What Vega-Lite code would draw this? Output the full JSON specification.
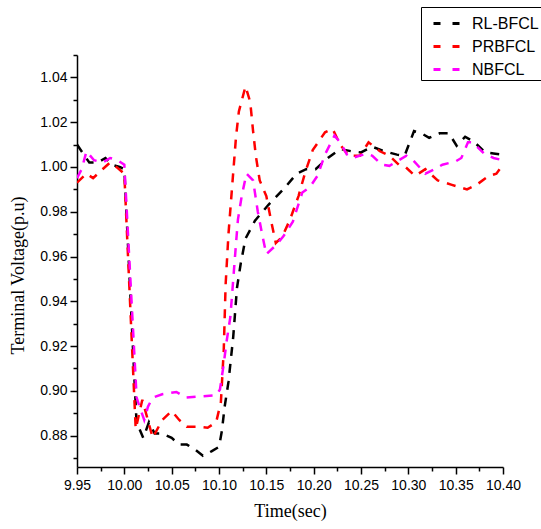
{
  "$schema": "https://vega.github.io/schema/vega-lite/v6.json",
  "width": 426,
  "height": 412,
  "autosize": {"type": "none"},
  "padding": {"left": 77, "top": 55, "right": 38, "bottom": 62},
  "background": "white",
  "config": {
    "view": {"stroke": null},
    "axis": {
      "grid": false,
      "domainColor": "#000",
      "domainWidth": 1.5,
      "tickColor": "#000",
      "tickWidth": 1.5,
      "labelColor": "#000",
      "labelFont": "Liberation Sans, Arial",
      "labelFontSize": 14,
      "titleFont": "Liberation Serif, Times New Roman",
      "titleFontWeight": "normal",
      "titleFontSize": 18,
      "titleColor": "#000"
    },
    "legend": {
      "labelFont": "Liberation Sans, Arial",
      "labelFontSize": 16,
      "labelColor": "#000"
    }
  },
  "data": {
    "values": [
      {"s": "RL-BFCL", "t": 9.950, "v": 1.010},
      {"s": "RL-BFCL", "t": 9.958, "v": 1.005},
      {"s": "RL-BFCL", "t": 9.963, "v": 1.002},
      {"s": "RL-BFCL", "t": 9.972, "v": 1.002},
      {"s": "RL-BFCL", "t": 9.980, "v": 1.004},
      {"s": "RL-BFCL", "t": 9.987, "v": 1.001},
      {"s": "RL-BFCL", "t": 9.995, "v": 1.000},
      {"s": "RL-BFCL", "t": 10.000, "v": 0.999},
      {"s": "RL-BFCL", "t": 10.013, "v": 0.885},
      {"s": "RL-BFCL", "t": 10.016, "v": 0.883},
      {"s": "RL-BFCL", "t": 10.020, "v": 0.879},
      {"s": "RL-BFCL", "t": 10.026, "v": 0.886},
      {"s": "RL-BFCL", "t": 10.032, "v": 0.881},
      {"s": "RL-BFCL", "t": 10.040, "v": 0.881},
      {"s": "RL-BFCL", "t": 10.050, "v": 0.879},
      {"s": "RL-BFCL", "t": 10.058, "v": 0.876},
      {"s": "RL-BFCL", "t": 10.066, "v": 0.876},
      {"s": "RL-BFCL", "t": 10.074, "v": 0.874},
      {"s": "RL-BFCL", "t": 10.083, "v": 0.871},
      {"s": "RL-BFCL", "t": 10.092, "v": 0.873},
      {"s": "RL-BFCL", "t": 10.100, "v": 0.875},
      {"s": "RL-BFCL", "t": 10.103, "v": 0.882},
      {"s": "RL-BFCL", "t": 10.106, "v": 0.893},
      {"s": "RL-BFCL", "t": 10.110, "v": 0.904},
      {"s": "RL-BFCL", "t": 10.115, "v": 0.924},
      {"s": "RL-BFCL", "t": 10.119, "v": 0.946},
      {"s": "RL-BFCL", "t": 10.123, "v": 0.957},
      {"s": "RL-BFCL", "t": 10.128, "v": 0.968},
      {"s": "RL-BFCL", "t": 10.138, "v": 0.976},
      {"s": "RL-BFCL", "t": 10.152, "v": 0.983},
      {"s": "RL-BFCL", "t": 10.168, "v": 0.990},
      {"s": "RL-BFCL", "t": 10.182, "v": 0.997},
      {"s": "RL-BFCL", "t": 10.192, "v": 0.999},
      {"s": "RL-BFCL", "t": 10.202, "v": 0.999},
      {"s": "RL-BFCL", "t": 10.215, "v": 1.004},
      {"s": "RL-BFCL", "t": 10.228, "v": 1.008},
      {"s": "RL-BFCL", "t": 10.240, "v": 1.007},
      {"s": "RL-BFCL", "t": 10.250, "v": 1.0065},
      {"s": "RL-BFCL", "t": 10.262, "v": 1.009},
      {"s": "RL-BFCL", "t": 10.275, "v": 1.007},
      {"s": "RL-BFCL", "t": 10.288, "v": 1.0055},
      {"s": "RL-BFCL", "t": 10.296, "v": 1.005},
      {"s": "RL-BFCL", "t": 10.306, "v": 1.016},
      {"s": "RL-BFCL", "t": 10.314, "v": 1.015},
      {"s": "RL-BFCL", "t": 10.322, "v": 1.013},
      {"s": "RL-BFCL", "t": 10.333, "v": 1.015},
      {"s": "RL-BFCL", "t": 10.343, "v": 1.015},
      {"s": "RL-BFCL", "t": 10.351, "v": 1.0095},
      {"s": "RL-BFCL", "t": 10.360, "v": 1.0135},
      {"s": "RL-BFCL", "t": 10.370, "v": 1.011},
      {"s": "RL-BFCL", "t": 10.381, "v": 1.0065},
      {"s": "RL-BFCL", "t": 10.390, "v": 1.006},
      {"s": "RL-BFCL", "t": 10.400, "v": 1.0055},

      {"s": "PRBFCL", "t": 9.950, "v": 0.993},
      {"s": "PRBFCL", "t": 9.960, "v": 0.997},
      {"s": "PRBFCL", "t": 9.967, "v": 0.995},
      {"s": "PRBFCL", "t": 9.977, "v": 0.999},
      {"s": "PRBFCL", "t": 9.985, "v": 1.002},
      {"s": "PRBFCL", "t": 9.993, "v": 0.9995},
      {"s": "PRBFCL", "t": 10.000, "v": 0.997},
      {"s": "PRBFCL", "t": 10.012, "v": 0.883},
      {"s": "PRBFCL", "t": 10.019, "v": 0.896},
      {"s": "PRBFCL", "t": 10.030, "v": 0.879},
      {"s": "PRBFCL", "t": 10.040, "v": 0.887},
      {"s": "PRBFCL", "t": 10.050, "v": 0.891},
      {"s": "PRBFCL", "t": 10.058, "v": 0.887},
      {"s": "PRBFCL", "t": 10.066, "v": 0.884},
      {"s": "PRBFCL", "t": 10.078, "v": 0.884},
      {"s": "PRBFCL", "t": 10.088, "v": 0.8835},
      {"s": "PRBFCL", "t": 10.097, "v": 0.886},
      {"s": "PRBFCL", "t": 10.102, "v": 0.895},
      {"s": "PRBFCL", "t": 10.105, "v": 0.918},
      {"s": "PRBFCL", "t": 10.107, "v": 0.9475},
      {"s": "PRBFCL", "t": 10.110, "v": 0.970},
      {"s": "PRBFCL", "t": 10.114, "v": 0.992},
      {"s": "PRBFCL", "t": 10.118, "v": 1.0136},
      {"s": "PRBFCL", "t": 10.121, "v": 1.0248},
      {"s": "PRBFCL", "t": 10.128, "v": 1.036},
      {"s": "PRBFCL", "t": 10.133, "v": 1.029},
      {"s": "PRBFCL", "t": 10.136, "v": 1.016},
      {"s": "PRBFCL", "t": 10.139, "v": 1.0047},
      {"s": "PRBFCL", "t": 10.143, "v": 0.994},
      {"s": "PRBFCL", "t": 10.150, "v": 0.987},
      {"s": "PRBFCL", "t": 10.155, "v": 0.976},
      {"s": "PRBFCL", "t": 10.160, "v": 0.966},
      {"s": "PRBFCL", "t": 10.167, "v": 0.969},
      {"s": "PRBFCL", "t": 10.175, "v": 0.9765},
      {"s": "PRBFCL", "t": 10.184, "v": 0.987},
      {"s": "PRBFCL", "t": 10.191, "v": 0.9975},
      {"s": "PRBFCL", "t": 10.199, "v": 1.0075},
      {"s": "PRBFCL", "t": 10.212, "v": 1.0155},
      {"s": "PRBFCL", "t": 10.220, "v": 1.017},
      {"s": "PRBFCL", "t": 10.228, "v": 1.010},
      {"s": "PRBFCL", "t": 10.237, "v": 1.005},
      {"s": "PRBFCL", "t": 10.249, "v": 1.005},
      {"s": "PRBFCL", "t": 10.258, "v": 1.011},
      {"s": "PRBFCL", "t": 10.270, "v": 1.007},
      {"s": "PRBFCL", "t": 10.280, "v": 1.005},
      {"s": "PRBFCL", "t": 10.290, "v": 1.001},
      {"s": "PRBFCL", "t": 10.297, "v": 1.000},
      {"s": "PRBFCL", "t": 10.307, "v": 0.996},
      {"s": "PRBFCL", "t": 10.318, "v": 0.999},
      {"s": "PRBFCL", "t": 10.331, "v": 0.994},
      {"s": "PRBFCL", "t": 10.346, "v": 0.992},
      {"s": "PRBFCL", "t": 10.362, "v": 0.990},
      {"s": "PRBFCL", "t": 10.372, "v": 0.992},
      {"s": "PRBFCL", "t": 10.385, "v": 0.996},
      {"s": "PRBFCL", "t": 10.393, "v": 0.997},
      {"s": "PRBFCL", "t": 10.400, "v": 1.001},

      {"s": "NBFCL", "t": 9.950, "v": 0.995},
      {"s": "NBFCL", "t": 9.955, "v": 0.999},
      {"s": "NBFCL", "t": 9.960, "v": 1.007},
      {"s": "NBFCL", "t": 9.968, "v": 1.003},
      {"s": "NBFCL", "t": 9.977, "v": 1.002},
      {"s": "NBFCL", "t": 9.985, "v": 1.004},
      {"s": "NBFCL", "t": 9.993, "v": 1.003},
      {"s": "NBFCL", "t": 10.000, "v": 1.001},
      {"s": "NBFCL", "t": 10.013, "v": 0.897},
      {"s": "NBFCL", "t": 10.016, "v": 0.893},
      {"s": "NBFCL", "t": 10.021, "v": 0.887},
      {"s": "NBFCL", "t": 10.025, "v": 0.893},
      {"s": "NBFCL", "t": 10.030, "v": 0.897},
      {"s": "NBFCL", "t": 10.040, "v": 0.8985},
      {"s": "NBFCL", "t": 10.055, "v": 0.8995},
      {"s": "NBFCL", "t": 10.065, "v": 0.897},
      {"s": "NBFCL", "t": 10.080, "v": 0.8975},
      {"s": "NBFCL", "t": 10.097, "v": 0.898},
      {"s": "NBFCL", "t": 10.101, "v": 0.9006},
      {"s": "NBFCL", "t": 10.105, "v": 0.912},
      {"s": "NBFCL", "t": 10.108, "v": 0.922},
      {"s": "NBFCL", "t": 10.112, "v": 0.933},
      {"s": "NBFCL", "t": 10.114, "v": 0.944},
      {"s": "NBFCL", "t": 10.116, "v": 0.955},
      {"s": "NBFCL", "t": 10.118, "v": 0.966},
      {"s": "NBFCL", "t": 10.120, "v": 0.9765},
      {"s": "NBFCL", "t": 10.124, "v": 0.987},
      {"s": "NBFCL", "t": 10.129, "v": 0.997},
      {"s": "NBFCL", "t": 10.136, "v": 0.994},
      {"s": "NBFCL", "t": 10.141, "v": 0.980},
      {"s": "NBFCL", "t": 10.146, "v": 0.969},
      {"s": "NBFCL", "t": 10.150, "v": 0.961},
      {"s": "NBFCL", "t": 10.160, "v": 0.965},
      {"s": "NBFCL", "t": 10.168, "v": 0.969},
      {"s": "NBFCL", "t": 10.178, "v": 0.9756},
      {"s": "NBFCL", "t": 10.188, "v": 0.9886},
      {"s": "NBFCL", "t": 10.196, "v": 0.991},
      {"s": "NBFCL", "t": 10.204, "v": 0.996},
      {"s": "NBFCL", "t": 10.212, "v": 1.0056},
      {"s": "NBFCL", "t": 10.222, "v": 1.014},
      {"s": "NBFCL", "t": 10.228, "v": 1.011},
      {"s": "NBFCL", "t": 10.235, "v": 1.0056},
      {"s": "NBFCL", "t": 10.241, "v": 1.004},
      {"s": "NBFCL", "t": 10.256, "v": 1.006},
      {"s": "NBFCL", "t": 10.262, "v": 1.005},
      {"s": "NBFCL", "t": 10.272, "v": 1.001},
      {"s": "NBFCL", "t": 10.280, "v": 1.0005},
      {"s": "NBFCL", "t": 10.290, "v": 1.003},
      {"s": "NBFCL", "t": 10.298, "v": 1.005},
      {"s": "NBFCL", "t": 10.305, "v": 1.003},
      {"s": "NBFCL", "t": 10.318, "v": 0.997},
      {"s": "NBFCL", "t": 10.328, "v": 0.999},
      {"s": "NBFCL", "t": 10.336, "v": 1.001},
      {"s": "NBFCL", "t": 10.350, "v": 1.0025},
      {"s": "NBFCL", "t": 10.356, "v": 1.004},
      {"s": "NBFCL", "t": 10.363, "v": 1.011},
      {"s": "NBFCL", "t": 10.368, "v": 1.011},
      {"s": "NBFCL", "t": 10.380, "v": 1.006},
      {"s": "NBFCL", "t": 10.390, "v": 1.004},
      {"s": "NBFCL", "t": 10.400, "v": 1.003}
    ]
  },
  "mark": {"type": "line", "strokeDash": [9, 8], "strokeWidth": 2.5, "clip": true},
  "encoding": {
    "x": {
      "field": "t",
      "type": "quantitative",
      "scale": {"domain": [9.95, 10.4], "nice": false, "zero": false},
      "axis": {
        "title": "Time(sec)",
        "values": [9.95, 9.975, 10.0, 10.025, 10.05, 10.075, 10.1, 10.125, 10.15, 10.175, 10.2, 10.225, 10.25, 10.275, 10.3, 10.325, 10.35, 10.375, 10.4],
        "labelExpr": "round(datum.value*1000) % 50 == 0 ? format(datum.value, '.2f') : ''",
        "tickSize": {"condition": {"test": "round(datum.value*1000) % 50 != 0", "value": 4}, "value": 7},
        "labelPadding": 4,
        "titlePadding": 10,
        "labelFlush": false,
        "labelOverlap": false
      }
    },
    "y": {
      "field": "v",
      "type": "quantitative",
      "scale": {"domain": [0.866, 1.05], "nice": false, "zero": false},
      "axis": {
        "title": "Terminal Voltage(p.u)",
        "titleY": 220,
        "values": [0.87, 0.88, 0.89, 0.9, 0.91, 0.92, 0.93, 0.94, 0.95, 0.96, 0.97, 0.98, 0.99, 1.0, 1.01, 1.02, 1.03, 1.04, 1.05],
        "labelExpr": "round(datum.value*100) % 2 == 0 ? format(datum.value, '.2f') : ''",
        "tickSize": {"condition": {"test": "round(datum.value*100) % 2 != 0", "value": 4}, "value": 7},
        "labelPadding": 3,
        "titlePadding": 12,
        "labelFlush": false,
        "labelOverlap": false
      }
    },
    "color": {
      "field": "s",
      "type": "nominal",
      "sort": ["RL-BFCL", "PRBFCL", "NBFCL"],
      "scale": {"domain": ["RL-BFCL", "PRBFCL", "NBFCL"], "range": ["#000000", "#ff0000", "#ff00ff"]},
      "legend": {
        "title": null,
        "orient": "none",
        "legendX": 344,
        "legendY": -48,
        "strokeColor": "#000",
        "padding": 2,
        "symbolType": "stroke",
        "symbolSize": 676,
        "symbolStrokeWidth": 3,
        "symbolDash": [7, 12],
        "symbolOffset": 9,
        "labelOffset": 11,
        "rowPadding": 0
      }
    }
  }
}
